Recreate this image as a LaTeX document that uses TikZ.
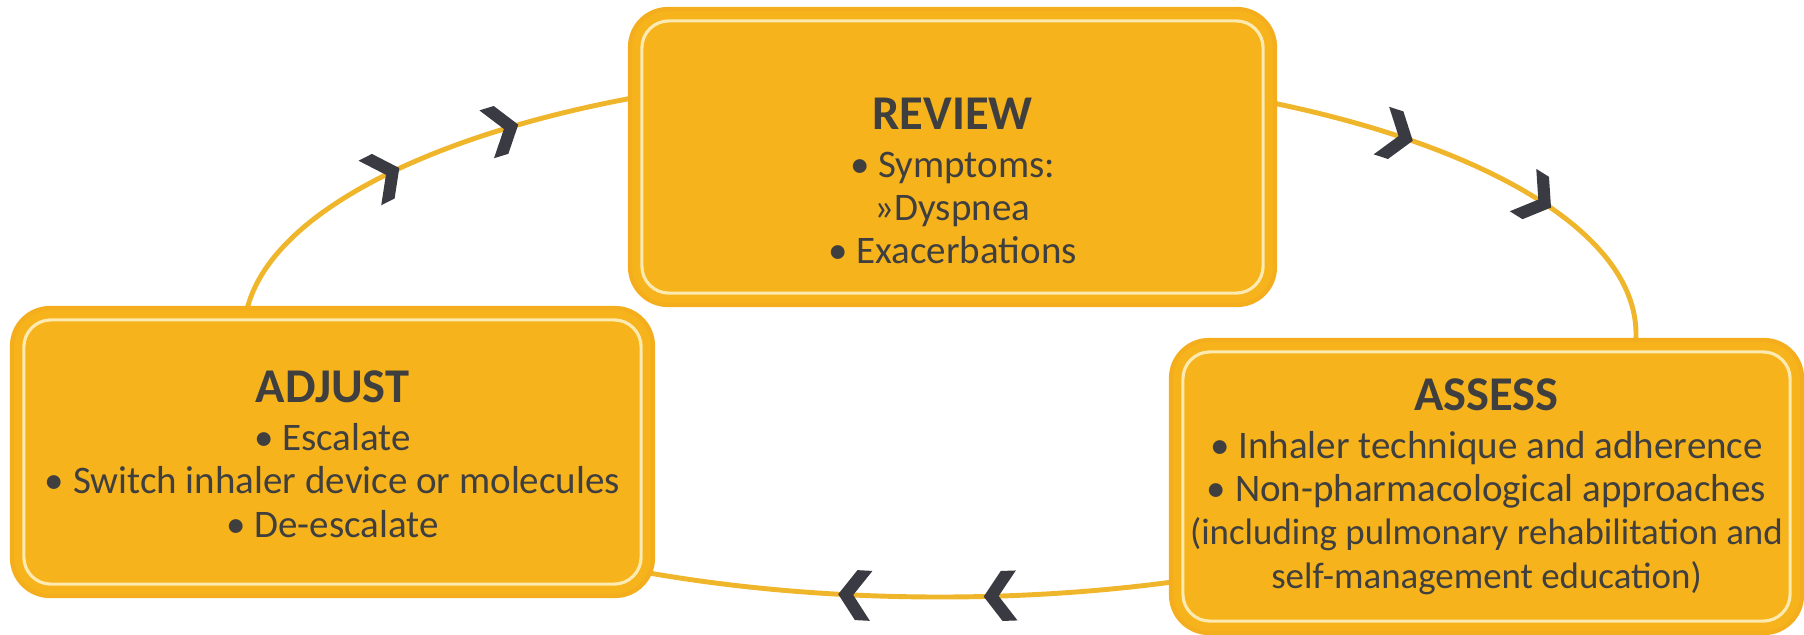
\documentclass[tikz,border=0pt]{standalone}
\usepackage{fontspec}
\setmainfont{Carlito}
\usetikzlibrary{positioning}

\definecolor{boxfill}{HTML}{F6B31B}
\definecolor{boxedge}{HTML}{F4AE1D}
\definecolor{rimcol}{HTML}{FCEAB0}
\definecolor{loopcol}{HTML}{EFB62C}
\definecolor{chevcol}{HTML}{3A3A42}
\definecolor{txtcol}{HTML}{3F3F3F}

\tikzset{
  stagebox/.style={draw=boxedge, line width=1.2pt, fill=boxfill, rounded corners=0.38cm, inner sep=0pt},
  stagetext/.style={align=center, text=txtcol, font=\fontsize{11.1}{12.3}\selectfont},
  rim/.style={draw=rimcol, line width=0.9pt, rounded corners=0.27cm},
  loopline/.style={draw=loopcol, line width=1.4pt},
  pics/chev/.style={code={
    \fill[chevcol] (-0.16,0.25) -- (-0.01,0.25) -- (0.17,0) -- (-0.01,-0.25) -- (-0.16,-0.25) -- (0.02,0) -- cycle;}}
}
\newcommand{\stitle}[1]{{\fontsize{13.8}{15}\selectfont\bfseries #1}\\[1.4pt]}

\begin{document}
\begin{tikzpicture}
  \useasboundingbox (0,0) rectangle (18.04,6.34);

  % Cycle line
  \coordinate (loopc) at (9.40,3.00);
  \draw[loopline] (loopc) ellipse [x radius=6.96, y radius=2.63];

  % Chevrons on the cycle
  \foreach \a/\r in {143/27, 129/17, 49/-18, 31/-32, 263/177, 275/182}
    \pic[rotate=\r] at ([shift={(\a:6.96 and 2.63)}]loopc) {chev};

  % Boxes
  \node[stagebox, minimum width=6.45cm, minimum height=2.96cm] (review) at (9.525,4.77) {};
  \node[stagebox, minimum width=6.41cm, minimum height=2.88cm] (adjust) at (3.325,1.82) {};
  \node[stagebox, minimum width=6.31cm, minimum height=2.93cm] (assess) at (14.865,1.475) {};

  % Inner rims
  \foreach \b in {review, adjust, assess}
    \draw[rim] ([shift={(0.14,0.14)}]\b.south west) rectangle ([shift={(-0.14,-0.14)}]\b.north east);

  % Texts
  \node[stagetext] (reviewtxt) at ([yshift=-0.24cm]review.center)
    {\stitle{REVIEW}• Symptoms:\\ »Dyspnea\\ • Exacerbations};
  \node[stagetext] (adjusttxt) at ([yshift=-0.02cm]adjust.center)
    {\stitle{ADJUST}• Escalate\\ • Switch inhaler device or molecules\\ • De-escalate};
  \node[stagetext] (assesstxt) at (assess.center)
    {\stitle{ASSESS}• Inhaler technique and adherence\\ • Non-pharmacological approaches\\
     {\fontsize{10.5}{12.3}\selectfont (including pulmonary rehabilitation and}\\
     {\fontsize{10.5}{12.3}\selectfont self-management education)}};
\end{tikzpicture}
\end{document}
